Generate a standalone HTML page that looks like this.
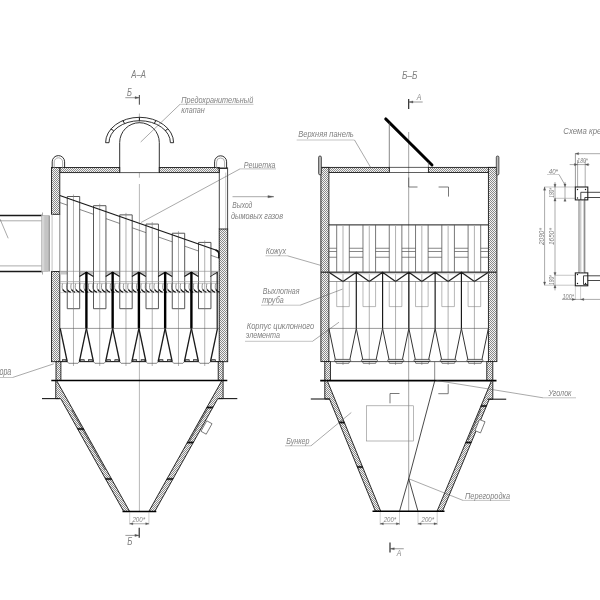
<!DOCTYPE html>
<html><head><meta charset="utf-8"><style>
html,body{margin:0;padding:0;background:#fff;width:600px;height:600px;overflow:hidden}
svg{display:block;will-change:transform}
text{font-family:"Liberation Sans",sans-serif;font-style:italic}
</style></head><body>
<svg width="600" height="600" viewBox="0 0 600 600">
<defs>
<pattern id="h" patternUnits="userSpaceOnUse" width="2" height="2">
<rect width="2" height="2" fill="#f4f4f4"/>
<rect width="1" height="1" fill="#8a8a8a"/><rect x="1" y="1" width="1" height="1" fill="#8a8a8a"/>
</pattern>
</defs>
<rect width="600" height="600" fill="#fff"/>
<text x="131.30" y="77.70" font-size="10.8" fill="#808080" textLength="14.6" lengthAdjust="spacingAndGlyphs" >А–А</text>
<text x="127.10" y="95.80" font-size="10" fill="#808080" textLength="4.9" lengthAdjust="spacingAndGlyphs" >Б</text>
<line x1="125.30" y1="97.70" x2="139.30" y2="97.70" stroke="#555" stroke-width="0.6" />
<polygon points="139.00,97.70 135.00,96.60 135.00,98.80" stroke="#555" stroke-width="0.3" fill="#555" />
<line x1="139.35" y1="95.00" x2="139.35" y2="104.70" stroke="#444" stroke-width="1.0" />
<line x1="139.40" y1="113.50" x2="139.40" y2="177.70" stroke="#999" stroke-width="0.7" />
<line x1="139.40" y1="184.00" x2="139.40" y2="512.00" stroke="#999" stroke-width="0.7" />
<path d="M105.6,142.7 A34,25.4 0 0 1 173.6,142.7 L170.4,142.7 A30.7,22 0 0 0 109,142.7 Z" fill="none" stroke="#1a1a1a" stroke-width="0.9"/>
<line x1="139.40" y1="117.30" x2="139.40" y2="120.70" stroke="#1a1a1a" stroke-width="1.0" />
<line x1="155.88" y1="120.48" x2="154.28" y2="123.46" stroke="#1a1a1a" stroke-width="1.0" />
<line x1="122.92" y1="120.48" x2="124.52" y2="123.46" stroke="#1a1a1a" stroke-width="1.0" />
<line x1="167.91" y1="128.87" x2="165.15" y2="130.72" stroke="#1a1a1a" stroke-width="1.0" />
<line x1="110.89" y1="128.87" x2="113.65" y2="130.72" stroke="#1a1a1a" stroke-width="1.0" />
<path d="M119.7,172.4 V142.5 A19.8,19.8 0 0 1 159.3,142.5 V172.4" fill="#fff" stroke="#1a1a1a" stroke-width="0.9"/>
<line x1="119.70" y1="172.60" x2="159.30" y2="172.60" stroke="#555" stroke-width="1.0" />
<rect x="59.80" y="167.50" width="59.90" height="5.10" stroke="#1a1a1a" stroke-width="0.9" fill="url(#h)" />
<rect x="159.30" y="167.50" width="59.90" height="5.10" stroke="#1a1a1a" stroke-width="0.9" fill="url(#h)" />
<rect x="51.50" y="167.50" width="8.30" height="46.80" stroke="#1a1a1a" stroke-width="0.9" fill="url(#h)" />
<rect x="51.50" y="271.50" width="8.30" height="90.20" stroke="#1a1a1a" stroke-width="0.9" fill="url(#h)" />
<path d="M52.2,168 V161.8 A6.2,6.2 0 0 1 64.6,161.8 V168" fill="none" stroke="#1a1a1a" stroke-width="0.9"/>
<path d="M54.2,168 V162 A4.2,4.2 0 0 1 62.6,162 V168" fill="none" stroke="#888" stroke-width="0.7"/>
<line x1="219.30" y1="167.50" x2="219.30" y2="229.00" stroke="#1a1a1a" stroke-width="0.8" />
<line x1="227.60" y1="167.50" x2="227.60" y2="229.00" stroke="#1a1a1a" stroke-width="0.8" />
<line x1="225.70" y1="172.60" x2="225.70" y2="229.00" stroke="#aaa" stroke-width="0.6" />
<rect x="217.50" y="167.50" width="10.10" height="1.50" stroke="none" stroke-width="0" fill="#333" />
<rect x="219.20" y="229.00" width="8.50" height="132.70" stroke="#1a1a1a" stroke-width="0.9" fill="url(#h)" />
<path d="M214.6,168 V161.8 A6.0,6.0 0 0 1 226.6,161.8 V168" fill="none" stroke="#1a1a1a" stroke-width="0.9"/>
<path d="M216.6,168 V162 A4.0,4.0 0 0 1 224.6,162 V168" fill="none" stroke="#888" stroke-width="0.7"/>
<line x1="0.00" y1="215.50" x2="42.00" y2="215.50" stroke="#1a1a1a" stroke-width="1.4" />
<line x1="0.00" y1="271.50" x2="42.00" y2="271.50" stroke="#1a1a1a" stroke-width="1.4" />
<line x1="0.00" y1="220.80" x2="42.00" y2="220.80" stroke="#888" stroke-width="0.7" />
<line x1="0.00" y1="265.90" x2="42.00" y2="265.90" stroke="#888" stroke-width="0.7" />
<line x1="0.00" y1="219.00" x2="8.20" y2="238.30" stroke="#555" stroke-width="0.5" />
<rect x="41.50" y="215.50" width="6.80" height="56.00" stroke="#999" stroke-width="0.5" fill="#d6d6d6" />
<rect x="44.30" y="215.50" width="4.00" height="56.00" stroke="none" stroke-width="0" fill="#c4c4c4" />
<line x1="49.30" y1="215.50" x2="49.30" y2="271.50" stroke="#555" stroke-width="0.7" />
<line x1="52.10" y1="214.30" x2="52.10" y2="271.50" stroke="#bbb" stroke-width="0.9" />
<line x1="59.80" y1="214.30" x2="59.80" y2="271.50" stroke="#555" stroke-width="0.7" />
<line x1="42.50" y1="212.50" x2="42.50" y2="215.50" stroke="#555" stroke-width="0.5" />
<line x1="42.50" y1="271.50" x2="42.50" y2="274.50" stroke="#555" stroke-width="0.5" />
<line x1="59.80" y1="202.50" x2="67.25" y2="205.11" stroke="#555" stroke-width="0.7" />
<line x1="79.70" y1="209.46" x2="93.50" y2="214.29" stroke="#555" stroke-width="0.7" />
<line x1="105.95" y1="218.64" x2="119.75" y2="223.47" stroke="#555" stroke-width="0.7" />
<line x1="132.20" y1="227.82" x2="146.00" y2="232.65" stroke="#555" stroke-width="0.7" />
<line x1="158.45" y1="237.00" x2="172.25" y2="241.83" stroke="#555" stroke-width="0.7" />
<line x1="184.70" y1="246.18" x2="198.50" y2="251.01" stroke="#555" stroke-width="0.7" />
<line x1="210.95" y1="255.36" x2="219.20" y2="258.24" stroke="#555" stroke-width="0.7" />
<rect x="59.80" y="271.00" width="7.45" height="3.50" stroke="none" stroke-width="0" fill="#c8c8c8" />
<rect x="79.70" y="271.00" width="13.80" height="3.50" stroke="none" stroke-width="0" fill="#c8c8c8" />
<rect x="105.95" y="271.00" width="13.80" height="3.50" stroke="none" stroke-width="0" fill="#c8c8c8" />
<rect x="132.20" y="271.00" width="13.80" height="3.50" stroke="none" stroke-width="0" fill="#c8c8c8" />
<rect x="158.45" y="271.00" width="13.80" height="3.50" stroke="none" stroke-width="0" fill="#c8c8c8" />
<rect x="184.70" y="271.00" width="13.80" height="3.50" stroke="none" stroke-width="0" fill="#c8c8c8" />
<rect x="210.95" y="271.00" width="8.25" height="3.50" stroke="none" stroke-width="0" fill="#c8c8c8" />
<path d="M62.50,283.6 C61.80,286.5 62.00,289.0 63.00,290.0" fill="none" stroke="#777" stroke-width="0.8"/>
<path d="M62.80,289.6 C63.70,291.0 65.00,291.8 66.40,292.3" fill="none" stroke="#111" stroke-width="1.3"/>
<path d="M66.88,283.6 C66.17,286.5 66.38,289.0 67.38,290.0" fill="none" stroke="#777" stroke-width="0.8"/>
<path d="M67.17,289.6 C68.08,291.0 69.38,291.8 70.78,292.3" fill="none" stroke="#111" stroke-width="1.3"/>
<path d="M71.25,283.6 C70.55,286.5 70.75,289.0 71.75,290.0" fill="none" stroke="#777" stroke-width="0.8"/>
<path d="M71.55,289.6 C72.45,291.0 73.75,291.8 75.15,292.3" fill="none" stroke="#111" stroke-width="1.3"/>
<path d="M75.62,283.6 C74.92,286.5 75.12,289.0 76.12,290.0" fill="none" stroke="#777" stroke-width="0.8"/>
<path d="M75.92,289.6 C76.83,291.0 78.12,291.8 79.53,292.3" fill="none" stroke="#111" stroke-width="1.3"/>
<path d="M80.00,283.6 C79.30,286.5 79.50,289.0 80.50,290.0" fill="none" stroke="#777" stroke-width="0.8"/>
<path d="M80.30,289.6 C81.20,291.0 82.50,291.8 83.90,292.3" fill="none" stroke="#111" stroke-width="1.3"/>
<path d="M84.38,283.6 C83.67,286.5 83.88,289.0 84.88,290.0" fill="none" stroke="#777" stroke-width="0.8"/>
<path d="M84.67,289.6 C85.58,291.0 86.88,291.8 88.28,292.3" fill="none" stroke="#111" stroke-width="1.3"/>
<path d="M88.75,283.6 C88.05,286.5 88.25,289.0 89.25,290.0" fill="none" stroke="#777" stroke-width="0.8"/>
<path d="M89.05,289.6 C89.95,291.0 91.25,291.8 92.65,292.3" fill="none" stroke="#111" stroke-width="1.3"/>
<path d="M93.12,283.6 C92.42,286.5 92.62,289.0 93.62,290.0" fill="none" stroke="#777" stroke-width="0.8"/>
<path d="M93.42,289.6 C94.33,291.0 95.62,291.8 97.03,292.3" fill="none" stroke="#111" stroke-width="1.3"/>
<path d="M97.50,283.6 C96.80,286.5 97.00,289.0 98.00,290.0" fill="none" stroke="#777" stroke-width="0.8"/>
<path d="M97.80,289.6 C98.70,291.0 100.00,291.8 101.40,292.3" fill="none" stroke="#111" stroke-width="1.3"/>
<path d="M101.88,283.6 C101.17,286.5 101.38,289.0 102.38,290.0" fill="none" stroke="#777" stroke-width="0.8"/>
<path d="M102.17,289.6 C103.08,291.0 104.38,291.8 105.78,292.3" fill="none" stroke="#111" stroke-width="1.3"/>
<path d="M106.25,283.6 C105.55,286.5 105.75,289.0 106.75,290.0" fill="none" stroke="#777" stroke-width="0.8"/>
<path d="M106.55,289.6 C107.45,291.0 108.75,291.8 110.15,292.3" fill="none" stroke="#111" stroke-width="1.3"/>
<path d="M110.62,283.6 C109.92,286.5 110.12,289.0 111.12,290.0" fill="none" stroke="#777" stroke-width="0.8"/>
<path d="M110.92,289.6 C111.83,291.0 113.12,291.8 114.53,292.3" fill="none" stroke="#111" stroke-width="1.3"/>
<path d="M115.00,283.6 C114.30,286.5 114.50,289.0 115.50,290.0" fill="none" stroke="#777" stroke-width="0.8"/>
<path d="M115.30,289.6 C116.20,291.0 117.50,291.8 118.90,292.3" fill="none" stroke="#111" stroke-width="1.3"/>
<path d="M119.38,283.6 C118.67,286.5 118.88,289.0 119.88,290.0" fill="none" stroke="#777" stroke-width="0.8"/>
<path d="M119.67,289.6 C120.58,291.0 121.88,291.8 123.28,292.3" fill="none" stroke="#111" stroke-width="1.3"/>
<path d="M123.75,283.6 C123.05,286.5 123.25,289.0 124.25,290.0" fill="none" stroke="#777" stroke-width="0.8"/>
<path d="M124.05,289.6 C124.95,291.0 126.25,291.8 127.65,292.3" fill="none" stroke="#111" stroke-width="1.3"/>
<path d="M128.12,283.6 C127.42,286.5 127.62,289.0 128.62,290.0" fill="none" stroke="#777" stroke-width="0.8"/>
<path d="M128.43,289.6 C129.32,291.0 130.62,291.8 132.03,292.3" fill="none" stroke="#111" stroke-width="1.3"/>
<path d="M132.50,283.6 C131.80,286.5 132.00,289.0 133.00,290.0" fill="none" stroke="#777" stroke-width="0.8"/>
<path d="M132.80,289.6 C133.70,291.0 135.00,291.8 136.40,292.3" fill="none" stroke="#111" stroke-width="1.3"/>
<path d="M136.88,283.6 C136.18,286.5 136.38,289.0 137.38,290.0" fill="none" stroke="#777" stroke-width="0.8"/>
<path d="M137.18,289.6 C138.07,291.0 139.38,291.8 140.78,292.3" fill="none" stroke="#111" stroke-width="1.3"/>
<path d="M141.25,283.6 C140.55,286.5 140.75,289.0 141.75,290.0" fill="none" stroke="#777" stroke-width="0.8"/>
<path d="M141.55,289.6 C142.45,291.0 143.75,291.8 145.15,292.3" fill="none" stroke="#111" stroke-width="1.3"/>
<path d="M145.62,283.6 C144.93,286.5 145.12,289.0 146.12,290.0" fill="none" stroke="#777" stroke-width="0.8"/>
<path d="M145.93,289.6 C146.82,291.0 148.12,291.8 149.53,292.3" fill="none" stroke="#111" stroke-width="1.3"/>
<path d="M150.00,283.6 C149.30,286.5 149.50,289.0 150.50,290.0" fill="none" stroke="#777" stroke-width="0.8"/>
<path d="M150.30,289.6 C151.20,291.0 152.50,291.8 153.90,292.3" fill="none" stroke="#111" stroke-width="1.3"/>
<path d="M154.38,283.6 C153.68,286.5 153.88,289.0 154.88,290.0" fill="none" stroke="#777" stroke-width="0.8"/>
<path d="M154.68,289.6 C155.57,291.0 156.88,291.8 158.28,292.3" fill="none" stroke="#111" stroke-width="1.3"/>
<path d="M158.75,283.6 C158.05,286.5 158.25,289.0 159.25,290.0" fill="none" stroke="#777" stroke-width="0.8"/>
<path d="M159.05,289.6 C159.95,291.0 161.25,291.8 162.65,292.3" fill="none" stroke="#111" stroke-width="1.3"/>
<path d="M163.12,283.6 C162.43,286.5 162.62,289.0 163.62,290.0" fill="none" stroke="#777" stroke-width="0.8"/>
<path d="M163.43,289.6 C164.32,291.0 165.62,291.8 167.03,292.3" fill="none" stroke="#111" stroke-width="1.3"/>
<path d="M167.50,283.6 C166.80,286.5 167.00,289.0 168.00,290.0" fill="none" stroke="#777" stroke-width="0.8"/>
<path d="M167.80,289.6 C168.70,291.0 170.00,291.8 171.40,292.3" fill="none" stroke="#111" stroke-width="1.3"/>
<path d="M171.88,283.6 C171.18,286.5 171.38,289.0 172.38,290.0" fill="none" stroke="#777" stroke-width="0.8"/>
<path d="M172.18,289.6 C173.07,291.0 174.38,291.8 175.78,292.3" fill="none" stroke="#111" stroke-width="1.3"/>
<path d="M176.25,283.6 C175.55,286.5 175.75,289.0 176.75,290.0" fill="none" stroke="#777" stroke-width="0.8"/>
<path d="M176.55,289.6 C177.45,291.0 178.75,291.8 180.15,292.3" fill="none" stroke="#111" stroke-width="1.3"/>
<path d="M180.62,283.6 C179.93,286.5 180.12,289.0 181.12,290.0" fill="none" stroke="#777" stroke-width="0.8"/>
<path d="M180.93,289.6 C181.82,291.0 183.12,291.8 184.53,292.3" fill="none" stroke="#111" stroke-width="1.3"/>
<path d="M185.00,283.6 C184.30,286.5 184.50,289.0 185.50,290.0" fill="none" stroke="#777" stroke-width="0.8"/>
<path d="M185.30,289.6 C186.20,291.0 187.50,291.8 188.90,292.3" fill="none" stroke="#111" stroke-width="1.3"/>
<path d="M189.38,283.6 C188.68,286.5 188.88,289.0 189.88,290.0" fill="none" stroke="#777" stroke-width="0.8"/>
<path d="M189.68,289.6 C190.57,291.0 191.88,291.8 193.28,292.3" fill="none" stroke="#111" stroke-width="1.3"/>
<path d="M193.75,283.6 C193.05,286.5 193.25,289.0 194.25,290.0" fill="none" stroke="#777" stroke-width="0.8"/>
<path d="M194.05,289.6 C194.95,291.0 196.25,291.8 197.65,292.3" fill="none" stroke="#111" stroke-width="1.3"/>
<path d="M198.12,283.6 C197.43,286.5 197.62,289.0 198.62,290.0" fill="none" stroke="#777" stroke-width="0.8"/>
<path d="M198.43,289.6 C199.32,291.0 200.62,291.8 202.03,292.3" fill="none" stroke="#111" stroke-width="1.3"/>
<path d="M202.50,283.6 C201.80,286.5 202.00,289.0 203.00,290.0" fill="none" stroke="#777" stroke-width="0.8"/>
<path d="M202.80,289.6 C203.70,291.0 205.00,291.8 206.40,292.3" fill="none" stroke="#111" stroke-width="1.3"/>
<path d="M206.88,283.6 C206.18,286.5 206.38,289.0 207.38,290.0" fill="none" stroke="#777" stroke-width="0.8"/>
<path d="M207.18,289.6 C208.07,291.0 209.38,291.8 210.78,292.3" fill="none" stroke="#111" stroke-width="1.3"/>
<path d="M211.25,283.6 C210.55,286.5 210.75,289.0 211.75,290.0" fill="none" stroke="#777" stroke-width="0.8"/>
<path d="M211.55,289.6 C212.45,291.0 213.75,291.8 215.15,292.3" fill="none" stroke="#111" stroke-width="1.3"/>
<path d="M215.62,283.6 C214.93,286.5 215.12,289.0 216.12,290.0" fill="none" stroke="#777" stroke-width="0.8"/>
<path d="M215.93,289.6 C216.82,291.0 218.12,291.8 219.53,292.3" fill="none" stroke="#111" stroke-width="1.3"/>
<line x1="59.80" y1="283.30" x2="219.20" y2="283.30" stroke="#888" stroke-width="0.5" />
<line x1="59.80" y1="292.60" x2="219.20" y2="292.60" stroke="#888" stroke-width="0.4" />
<polyline points="67.25,308.70 67.25,196.51 79.70,196.51 79.70,308.70 67.25,308.70" stroke="#444" stroke-width="0.9" fill="none" />
<line x1="73.47" y1="194.51" x2="73.47" y2="366.00" stroke="#7a7a7a" stroke-width="0.6" />
<polyline points="93.50,308.70 93.50,205.69 105.95,205.69 105.95,308.70 93.50,308.70" stroke="#444" stroke-width="0.9" fill="none" />
<line x1="99.72" y1="203.69" x2="99.72" y2="366.00" stroke="#7a7a7a" stroke-width="0.6" />
<polyline points="119.75,308.70 119.75,214.87 132.20,214.87 132.20,308.70 119.75,308.70" stroke="#444" stroke-width="0.9" fill="none" />
<line x1="125.97" y1="212.87" x2="125.97" y2="366.00" stroke="#7a7a7a" stroke-width="0.6" />
<polyline points="146.00,308.70 146.00,224.05 158.45,224.05 158.45,308.70 146.00,308.70" stroke="#444" stroke-width="0.9" fill="none" />
<line x1="152.22" y1="222.05" x2="152.22" y2="366.00" stroke="#7a7a7a" stroke-width="0.6" />
<polyline points="172.25,308.70 172.25,233.23 184.70,233.23 184.70,308.70 172.25,308.70" stroke="#444" stroke-width="0.9" fill="none" />
<line x1="178.47" y1="231.23" x2="178.47" y2="366.00" stroke="#7a7a7a" stroke-width="0.6" />
<polyline points="198.50,308.70 198.50,242.41 210.95,242.41 210.95,308.70 198.50,308.70" stroke="#444" stroke-width="0.9" fill="none" />
<line x1="204.72" y1="240.41" x2="204.72" y2="366.00" stroke="#7a7a7a" stroke-width="0.6" />
<line x1="59.80" y1="195.50" x2="218.50" y2="251.00" stroke="#1a1a1a" stroke-width="1.3" />
<path d="M215.5,250.0 Q218.8,251.2 218.8,253.5 V258.3" fill="none" stroke="#111" stroke-width="1.4"/>
<line x1="59.80" y1="271.30" x2="219.20" y2="271.30" stroke="#888" stroke-width="0.6" />
<line x1="59.80" y1="281.50" x2="219.20" y2="281.50" stroke="#999" stroke-width="0.6" />
<polyline points="79.40,276.60 86.40,272.30 93.40,276.60" stroke="#1a1a1a" stroke-width="1.2" fill="none" />
<line x1="86.40" y1="272.00" x2="86.40" y2="328.40" stroke="#000" stroke-width="2.4" />
<polyline points="105.65,276.60 112.65,272.30 119.65,276.60" stroke="#1a1a1a" stroke-width="1.2" fill="none" />
<line x1="112.65" y1="272.00" x2="112.65" y2="328.40" stroke="#000" stroke-width="2.4" />
<polyline points="131.90,276.60 138.90,272.30 145.90,276.60" stroke="#1a1a1a" stroke-width="1.2" fill="none" />
<line x1="138.90" y1="272.00" x2="138.90" y2="328.40" stroke="#000" stroke-width="2.4" />
<polyline points="158.15,276.60 165.15,272.30 172.15,276.60" stroke="#1a1a1a" stroke-width="1.2" fill="none" />
<line x1="165.15" y1="272.00" x2="165.15" y2="328.40" stroke="#000" stroke-width="2.4" />
<polyline points="184.40,276.60 191.40,272.30 198.40,276.60" stroke="#1a1a1a" stroke-width="1.2" fill="none" />
<line x1="191.40" y1="272.00" x2="191.40" y2="328.40" stroke="#000" stroke-width="2.4" />
<line x1="217.20" y1="272.00" x2="217.20" y2="328.40" stroke="#1a1a1a" stroke-width="1.2" />
<polyline points="210.20,276.60 217.20,272.30" stroke="#1a1a1a" stroke-width="0.9" fill="none" />
<line x1="59.80" y1="328.40" x2="219.20" y2="328.40" stroke="#555" stroke-width="0.6" />
<line x1="60.20" y1="328.40" x2="67.20" y2="361.50" stroke="#1a1a1a" stroke-width="1.3" />
<line x1="86.40" y1="328.40" x2="79.40" y2="361.50" stroke="#1a1a1a" stroke-width="1.3" />
<polyline points="67.20,361.50 68.70,363.30 77.90,363.30 79.40,361.50" stroke="#555" stroke-width="0.7" fill="none" />
<line x1="86.40" y1="328.40" x2="93.40" y2="361.50" stroke="#1a1a1a" stroke-width="1.3" />
<line x1="112.65" y1="328.40" x2="105.65" y2="361.50" stroke="#1a1a1a" stroke-width="1.3" />
<polyline points="93.40,361.50 94.90,363.30 104.15,363.30 105.65,361.50" stroke="#555" stroke-width="0.7" fill="none" />
<line x1="112.65" y1="328.40" x2="119.65" y2="361.50" stroke="#1a1a1a" stroke-width="1.3" />
<line x1="138.90" y1="328.40" x2="131.90" y2="361.50" stroke="#1a1a1a" stroke-width="1.3" />
<polyline points="119.65,361.50 121.15,363.30 130.40,363.30 131.90,361.50" stroke="#555" stroke-width="0.7" fill="none" />
<line x1="138.90" y1="328.40" x2="145.90" y2="361.50" stroke="#1a1a1a" stroke-width="1.3" />
<line x1="165.15" y1="328.40" x2="158.15" y2="361.50" stroke="#1a1a1a" stroke-width="1.3" />
<polyline points="145.90,361.50 147.40,363.30 156.65,363.30 158.15,361.50" stroke="#555" stroke-width="0.7" fill="none" />
<line x1="165.15" y1="328.40" x2="172.15" y2="361.50" stroke="#1a1a1a" stroke-width="1.3" />
<line x1="191.40" y1="328.40" x2="184.40" y2="361.50" stroke="#1a1a1a" stroke-width="1.3" />
<polyline points="172.15,361.50 173.65,363.30 182.90,363.30 184.40,361.50" stroke="#555" stroke-width="0.7" fill="none" />
<line x1="191.40" y1="328.40" x2="198.40" y2="361.50" stroke="#1a1a1a" stroke-width="1.3" />
<line x1="217.50" y1="328.40" x2="210.50" y2="361.50" stroke="#1a1a1a" stroke-width="1.3" />
<polyline points="198.40,361.50 199.90,363.30 209.00,363.30 210.50,361.50" stroke="#555" stroke-width="0.7" fill="none" />
<line x1="59.80" y1="361.60" x2="67.50" y2="361.60" stroke="#1a1a1a" stroke-width="1.1" />
<rect x="62.40" y="359.70" width="3.60" height="1.80" stroke="#1a1a1a" stroke-width="0.7" fill="#aaa" />
<line x1="79.10" y1="361.60" x2="93.70" y2="361.60" stroke="#1a1a1a" stroke-width="1.1" />
<rect x="80.60" y="359.70" width="3.60" height="1.80" stroke="#1a1a1a" stroke-width="0.7" fill="#aaa" />
<rect x="88.60" y="359.70" width="3.60" height="1.80" stroke="#1a1a1a" stroke-width="0.7" fill="#aaa" />
<line x1="105.35" y1="361.60" x2="119.95" y2="361.60" stroke="#1a1a1a" stroke-width="1.1" />
<rect x="106.85" y="359.70" width="3.60" height="1.80" stroke="#1a1a1a" stroke-width="0.7" fill="#aaa" />
<rect x="114.85" y="359.70" width="3.60" height="1.80" stroke="#1a1a1a" stroke-width="0.7" fill="#aaa" />
<line x1="131.60" y1="361.60" x2="146.20" y2="361.60" stroke="#1a1a1a" stroke-width="1.1" />
<rect x="133.10" y="359.70" width="3.60" height="1.80" stroke="#1a1a1a" stroke-width="0.7" fill="#aaa" />
<rect x="141.10" y="359.70" width="3.60" height="1.80" stroke="#1a1a1a" stroke-width="0.7" fill="#aaa" />
<line x1="157.85" y1="361.60" x2="172.45" y2="361.60" stroke="#1a1a1a" stroke-width="1.1" />
<rect x="159.35" y="359.70" width="3.60" height="1.80" stroke="#1a1a1a" stroke-width="0.7" fill="#aaa" />
<rect x="167.35" y="359.70" width="3.60" height="1.80" stroke="#1a1a1a" stroke-width="0.7" fill="#aaa" />
<line x1="184.10" y1="361.60" x2="198.70" y2="361.60" stroke="#1a1a1a" stroke-width="1.1" />
<rect x="185.60" y="359.70" width="3.60" height="1.80" stroke="#1a1a1a" stroke-width="0.7" fill="#aaa" />
<rect x="193.60" y="359.70" width="3.60" height="1.80" stroke="#1a1a1a" stroke-width="0.7" fill="#aaa" />
<line x1="210.20" y1="361.60" x2="219.20" y2="361.60" stroke="#1a1a1a" stroke-width="1.1" />
<rect x="211.70" y="359.70" width="3.60" height="1.80" stroke="#1a1a1a" stroke-width="0.7" fill="#aaa" />
<rect x="56.00" y="361.70" width="4.90" height="18.80" stroke="#1a1a1a" stroke-width="0.9" fill="url(#h)" />
<rect x="218.20" y="361.70" width="4.90" height="18.80" stroke="#1a1a1a" stroke-width="0.9" fill="url(#h)" />
<line x1="51.30" y1="380.50" x2="227.30" y2="380.50" stroke="#000" stroke-width="1.6" />
<polygon points="55.75,381.00 56.90,381.00 129.70,511.50 123.70,511.50 60.72,398.60 55.75,398.60" stroke="#1a1a1a" stroke-width="0.9" fill="url(#h)" />
<polygon points="83.23,428.20 77.23,428.20 78.12,429.80 84.12,429.80" stroke="#111" stroke-width="0.3" fill="#111" />
<polygon points="111.12,478.20 105.12,478.20 106.02,479.80 112.02,479.80" stroke="#111" stroke-width="0.3" fill="#111" />
<line x1="71.68" y1="410.00" x2="105.15" y2="470.00" stroke="#1a1a1a" stroke-width="0.6" />
<polygon points="223.10,381.00 221.60,381.00 148.80,511.50 154.80,511.50 217.78,398.60 223.10,398.60" stroke="#1a1a1a" stroke-width="0.9" fill="url(#h)" />
<polygon points="207.26,406.70 213.26,406.70 212.37,408.30 206.37,408.30" stroke="#111" stroke-width="0.3" fill="#111" />
<polygon points="187.74,441.70 193.74,441.70 192.85,443.30 186.85,443.30" stroke="#111" stroke-width="0.3" fill="#111" />
<polygon points="167.38,478.20 173.38,478.20 172.48,479.80 166.48,479.80" stroke="#111" stroke-width="0.3" fill="#111" />
<line x1="207.38" y1="409.00" x2="189.53" y2="441.00" stroke="#1a1a1a" stroke-width="0.6" />
<line x1="42.00" y1="398.60" x2="59.50" y2="398.60" stroke="#1a1a1a" stroke-width="1.1" />
<line x1="218.30" y1="398.60" x2="237.30" y2="398.60" stroke="#1a1a1a" stroke-width="1.1" />
<line x1="122.50" y1="511.50" x2="156.30" y2="511.50" stroke="#000" stroke-width="1.6" />
<rect x="-3" y="-6" width="6" height="12" fill="#fff" stroke="#555" stroke-width="0.7" transform="translate(206.5,427.5) rotate(29)"/>
<line x1="129.70" y1="512.00" x2="129.70" y2="524.50" stroke="#888" stroke-width="0.4" />
<line x1="148.90" y1="512.00" x2="148.90" y2="524.50" stroke="#888" stroke-width="0.4" />
<line x1="129.70" y1="523.75" x2="148.90" y2="523.75" stroke="#555" stroke-width="0.5" />
<polygon points="129.90,523.75 132.90,522.65 132.90,524.85" stroke="#555" stroke-width="0.3" fill="#555" />
<polygon points="148.70,523.75 145.70,522.65 145.70,524.85" stroke="#555" stroke-width="0.3" fill="#555" />
<text x="132.40" y="521.50" font-size="7" fill="#808080" textLength="12.8" lengthAdjust="spacingAndGlyphs" >200*</text>
<line x1="139.20" y1="527.80" x2="139.20" y2="537.80" stroke="#1a1a1a" stroke-width="1.1" />
<line x1="125.40" y1="535.40" x2="139.20" y2="535.40" stroke="#555" stroke-width="0.6" />
<polygon points="138.90,535.40 134.90,534.30 134.90,536.50" stroke="#555" stroke-width="0.3" fill="#555" />
<text x="127.20" y="544.90" font-size="10" fill="#808080" textLength="5.2" lengthAdjust="spacingAndGlyphs" >Б</text>
<text x="181.20" y="103.20" font-size="9.7" fill="#808080" textLength="72.0" lengthAdjust="spacingAndGlyphs" >Предохранительный</text>
<line x1="180.00" y1="104.30" x2="253.50" y2="104.30" stroke="#888" stroke-width="0.5" />
<text x="181.20" y="113.30" font-size="9.7" fill="#808080" textLength="23.5" lengthAdjust="spacingAndGlyphs" >клапан</text>
<line x1="180.00" y1="104.30" x2="140.70" y2="142.00" stroke="#555" stroke-width="0.5" />
<text x="243.80" y="168.00" font-size="9.7" fill="#808080" textLength="31.7" lengthAdjust="spacingAndGlyphs" >Решетка</text>
<line x1="240.00" y1="168.90" x2="276.00" y2="168.90" stroke="#888" stroke-width="0.5" />
<line x1="240.00" y1="168.90" x2="141.00" y2="222.50" stroke="#555" stroke-width="0.5" />
<line x1="232.50" y1="196.70" x2="273.70" y2="196.70" stroke="#555" stroke-width="0.5" />
<polygon points="273.90,196.70 267.90,195.60 267.90,197.80" stroke="#555" stroke-width="0.3" fill="#555" />
<text x="232.30" y="207.90" font-size="9.7" fill="#808080" textLength="20.0" lengthAdjust="spacingAndGlyphs" >Выход</text>
<text x="231.00" y="218.60" font-size="9.7" fill="#808080" textLength="52.0" lengthAdjust="spacingAndGlyphs" >дымовых газов</text>
<text x="-0.50" y="375.30" font-size="10" fill="#808080" textLength="11.8" lengthAdjust="spacingAndGlyphs" >ора</text>
<line x1="0.00" y1="377.50" x2="12.50" y2="377.50" stroke="#888" stroke-width="0.5" />
<line x1="12.50" y1="377.50" x2="53.80" y2="363.80" stroke="#555" stroke-width="0.5" />
<text x="401.90" y="78.80" font-size="10.8" fill="#808080" textLength="15.6" lengthAdjust="spacingAndGlyphs" >Б–Б</text>
<line x1="408.70" y1="99.00" x2="408.70" y2="109.00" stroke="#1a1a1a" stroke-width="1.1" />
<line x1="408.70" y1="102.00" x2="422.70" y2="102.00" stroke="#555" stroke-width="0.6" />
<polygon points="409.00,102.00 413.00,100.90 413.00,103.10" stroke="#555" stroke-width="0.3" fill="#555" />
<text x="416.80" y="100.40" font-size="9.5" fill="#808080" textLength="4.6" lengthAdjust="spacingAndGlyphs" >А</text>
<line x1="408.70" y1="132.00" x2="408.70" y2="511.00" stroke="#8a8a8a" stroke-width="0.8" />
<line x1="385.70" y1="118.90" x2="432.00" y2="165.00" stroke="#000" stroke-width="2.9" stroke-linecap="round"/>
<line x1="389.30" y1="122.70" x2="389.30" y2="172.40" stroke="#555" stroke-width="0.7" />
<line x1="428.40" y1="162.00" x2="428.40" y2="167.30" stroke="#555" stroke-width="0.6" />
<rect x="320.90" y="167.40" width="68.40" height="5.10" stroke="#1a1a1a" stroke-width="0.9" fill="url(#h)" />
<line x1="389.30" y1="167.40" x2="428.40" y2="167.40" stroke="#1a1a1a" stroke-width="0.7" />
<line x1="389.30" y1="172.50" x2="428.40" y2="172.50" stroke="#1a1a1a" stroke-width="0.7" />
<rect x="428.40" y="167.40" width="68.50" height="5.10" stroke="#1a1a1a" stroke-width="0.9" fill="url(#h)" />
<rect x="320.90" y="167.40" width="8.00" height="194.20" stroke="#1a1a1a" stroke-width="0.9" fill="url(#h)" />
<rect x="488.40" y="167.40" width="8.50" height="194.20" stroke="#1a1a1a" stroke-width="0.9" fill="url(#h)" />
<rect x="318.60" y="156.00" width="2.80" height="18.80" stroke="#1a1a1a" stroke-width="0.7" fill="#bbb" rx="1.3"/>
<rect x="496.30" y="156.00" width="2.60" height="19.00" stroke="#1a1a1a" stroke-width="0.7" fill="#bbb" rx="1.3"/>
<polyline points="408.70,177.50 408.70,187.00 417.50,187.00" stroke="#555" stroke-width="0.8" fill="none" />
<polyline points="438.60,187.00 448.50,187.00 448.50,196.60" stroke="#555" stroke-width="0.8" fill="none" />
<line x1="328.90" y1="224.90" x2="488.40" y2="224.90" stroke="#1a1a1a" stroke-width="1.0" />
<line x1="336.70" y1="224.90" x2="336.70" y2="272.20" stroke="#555" stroke-width="0.8" />
<line x1="349.30" y1="224.90" x2="349.30" y2="272.20" stroke="#555" stroke-width="0.8" />
<polyline points="336.70,281.50 336.70,306.60 349.30,306.60 349.30,281.50" stroke="#888" stroke-width="0.6" fill="none" />
<line x1="343.00" y1="226.00" x2="343.00" y2="365.00" stroke="#7a7a7a" stroke-width="0.6" />
<line x1="362.98" y1="224.90" x2="362.98" y2="272.20" stroke="#555" stroke-width="0.8" />
<line x1="375.58" y1="224.90" x2="375.58" y2="272.20" stroke="#555" stroke-width="0.8" />
<polyline points="362.98,281.50 362.98,306.60 375.58,306.60 375.58,281.50" stroke="#888" stroke-width="0.6" fill="none" />
<line x1="369.28" y1="226.00" x2="369.28" y2="365.00" stroke="#7a7a7a" stroke-width="0.6" />
<line x1="389.26" y1="224.90" x2="389.26" y2="272.20" stroke="#555" stroke-width="0.8" />
<line x1="401.86" y1="224.90" x2="401.86" y2="272.20" stroke="#555" stroke-width="0.8" />
<polyline points="389.26,281.50 389.26,306.60 401.86,306.60 401.86,281.50" stroke="#888" stroke-width="0.6" fill="none" />
<line x1="395.56" y1="226.00" x2="395.56" y2="365.00" stroke="#7a7a7a" stroke-width="0.6" />
<line x1="415.54" y1="224.90" x2="415.54" y2="272.20" stroke="#555" stroke-width="0.8" />
<line x1="428.14" y1="224.90" x2="428.14" y2="272.20" stroke="#555" stroke-width="0.8" />
<polyline points="415.54,281.50 415.54,306.60 428.14,306.60 428.14,281.50" stroke="#888" stroke-width="0.6" fill="none" />
<line x1="421.84" y1="226.00" x2="421.84" y2="365.00" stroke="#7a7a7a" stroke-width="0.6" />
<line x1="441.82" y1="224.90" x2="441.82" y2="272.20" stroke="#555" stroke-width="0.8" />
<line x1="454.42" y1="224.90" x2="454.42" y2="272.20" stroke="#555" stroke-width="0.8" />
<polyline points="441.82,281.50 441.82,306.60 454.42,306.60 454.42,281.50" stroke="#888" stroke-width="0.6" fill="none" />
<line x1="448.12" y1="226.00" x2="448.12" y2="365.00" stroke="#7a7a7a" stroke-width="0.6" />
<line x1="468.10" y1="224.90" x2="468.10" y2="272.20" stroke="#555" stroke-width="0.8" />
<line x1="480.70" y1="224.90" x2="480.70" y2="272.20" stroke="#555" stroke-width="0.8" />
<polyline points="468.10,281.50 468.10,306.60 480.70,306.60 480.70,281.50" stroke="#888" stroke-width="0.6" fill="none" />
<line x1="474.40" y1="226.00" x2="474.40" y2="365.00" stroke="#7a7a7a" stroke-width="0.6" />
<line x1="328.90" y1="248.25" x2="336.70" y2="248.25" stroke="#555" stroke-width="0.7" />
<line x1="328.90" y1="251.50" x2="336.70" y2="251.50" stroke="#555" stroke-width="0.7" />
<line x1="328.90" y1="257.25" x2="336.70" y2="257.25" stroke="#555" stroke-width="0.7" />
<line x1="349.30" y1="248.25" x2="362.98" y2="248.25" stroke="#555" stroke-width="0.7" />
<line x1="349.30" y1="251.50" x2="362.98" y2="251.50" stroke="#555" stroke-width="0.7" />
<line x1="349.30" y1="257.25" x2="362.98" y2="257.25" stroke="#555" stroke-width="0.7" />
<line x1="375.58" y1="248.25" x2="389.26" y2="248.25" stroke="#555" stroke-width="0.7" />
<line x1="375.58" y1="251.50" x2="389.26" y2="251.50" stroke="#555" stroke-width="0.7" />
<line x1="375.58" y1="257.25" x2="389.26" y2="257.25" stroke="#555" stroke-width="0.7" />
<line x1="401.86" y1="248.25" x2="415.54" y2="248.25" stroke="#555" stroke-width="0.7" />
<line x1="401.86" y1="251.50" x2="415.54" y2="251.50" stroke="#555" stroke-width="0.7" />
<line x1="401.86" y1="257.25" x2="415.54" y2="257.25" stroke="#555" stroke-width="0.7" />
<line x1="428.14" y1="248.25" x2="441.82" y2="248.25" stroke="#555" stroke-width="0.7" />
<line x1="428.14" y1="251.50" x2="441.82" y2="251.50" stroke="#555" stroke-width="0.7" />
<line x1="428.14" y1="257.25" x2="441.82" y2="257.25" stroke="#555" stroke-width="0.7" />
<line x1="454.42" y1="248.25" x2="468.10" y2="248.25" stroke="#555" stroke-width="0.7" />
<line x1="454.42" y1="251.50" x2="468.10" y2="251.50" stroke="#555" stroke-width="0.7" />
<line x1="454.42" y1="257.25" x2="468.10" y2="257.25" stroke="#555" stroke-width="0.7" />
<line x1="480.70" y1="248.25" x2="488.40" y2="248.25" stroke="#555" stroke-width="0.7" />
<line x1="480.70" y1="251.50" x2="488.40" y2="251.50" stroke="#555" stroke-width="0.7" />
<line x1="480.70" y1="257.25" x2="488.40" y2="257.25" stroke="#555" stroke-width="0.7" />
<line x1="320.90" y1="272.20" x2="496.90" y2="272.20" stroke="#444" stroke-width="1.5" />
<rect x="328.90" y="272.90" width="159.50" height="1.40" stroke="none" stroke-width="0" fill="#d4d4d4" />
<polyline points="328.90,272.20 343.00,281.50 356.30,272.20 369.28,281.50 382.58,272.20 395.56,281.50 408.86,272.20 421.84,281.50 435.14,272.20 448.12,281.50 461.42,272.20 474.40,281.50 488.40,272.20" stroke="#222" stroke-width="1.25" fill="none" />
<line x1="328.90" y1="281.50" x2="488.40" y2="281.50" stroke="#555" stroke-width="0.6" />
<line x1="356.30" y1="272.20" x2="356.30" y2="328.40" stroke="#1a1a1a" stroke-width="1.2" />
<line x1="382.58" y1="272.20" x2="382.58" y2="328.40" stroke="#1a1a1a" stroke-width="1.2" />
<line x1="408.86" y1="272.20" x2="408.86" y2="328.40" stroke="#1a1a1a" stroke-width="1.2" />
<line x1="435.14" y1="272.20" x2="435.14" y2="328.40" stroke="#1a1a1a" stroke-width="1.2" />
<line x1="461.42" y1="272.20" x2="461.42" y2="328.40" stroke="#1a1a1a" stroke-width="1.2" />
<line x1="328.90" y1="328.40" x2="488.40" y2="328.40" stroke="#555" stroke-width="0.6" />
<line x1="328.90" y1="328.40" x2="335.40" y2="359.80" stroke="#333" stroke-width="1.0" />
<line x1="356.30" y1="328.40" x2="349.80" y2="359.80" stroke="#333" stroke-width="1.0" />
<rect x="334.60" y="359.40" width="16.00" height="2.20" stroke="#333" stroke-width="0.7" fill="#ddd" rx="1"/>
<polyline points="335.80,361.60 336.40,363.40 348.80,363.40 349.40,361.60" stroke="#555" stroke-width="0.7" fill="none" />
<line x1="356.30" y1="328.40" x2="362.80" y2="359.80" stroke="#333" stroke-width="1.0" />
<line x1="382.58" y1="328.40" x2="376.08" y2="359.80" stroke="#333" stroke-width="1.0" />
<rect x="361.44" y="359.40" width="16.00" height="2.20" stroke="#333" stroke-width="0.7" fill="#ddd" rx="1"/>
<polyline points="362.64,361.60 363.24,363.40 375.64,363.40 376.24,361.60" stroke="#555" stroke-width="0.7" fill="none" />
<line x1="382.58" y1="328.40" x2="389.08" y2="359.80" stroke="#333" stroke-width="1.0" />
<line x1="408.86" y1="328.40" x2="402.36" y2="359.80" stroke="#333" stroke-width="1.0" />
<rect x="387.72" y="359.40" width="16.00" height="2.20" stroke="#333" stroke-width="0.7" fill="#ddd" rx="1"/>
<polyline points="388.92,361.60 389.52,363.40 401.92,363.40 402.52,361.60" stroke="#555" stroke-width="0.7" fill="none" />
<line x1="408.86" y1="328.40" x2="415.36" y2="359.80" stroke="#333" stroke-width="1.0" />
<line x1="435.14" y1="328.40" x2="428.64" y2="359.80" stroke="#333" stroke-width="1.0" />
<rect x="414.00" y="359.40" width="16.00" height="2.20" stroke="#333" stroke-width="0.7" fill="#ddd" rx="1"/>
<polyline points="415.20,361.60 415.80,363.40 428.20,363.40 428.80,361.60" stroke="#555" stroke-width="0.7" fill="none" />
<line x1="435.14" y1="328.40" x2="441.64" y2="359.80" stroke="#333" stroke-width="1.0" />
<line x1="461.42" y1="328.40" x2="454.92" y2="359.80" stroke="#333" stroke-width="1.0" />
<rect x="440.28" y="359.40" width="16.00" height="2.20" stroke="#333" stroke-width="0.7" fill="#ddd" rx="1"/>
<polyline points="441.48,361.60 442.08,363.40 454.48,363.40 455.08,361.60" stroke="#555" stroke-width="0.7" fill="none" />
<line x1="461.42" y1="328.40" x2="467.92" y2="359.80" stroke="#333" stroke-width="1.0" />
<line x1="488.40" y1="328.40" x2="481.90" y2="359.80" stroke="#333" stroke-width="1.0" />
<rect x="466.91" y="359.40" width="16.00" height="2.20" stroke="#333" stroke-width="0.7" fill="#ddd" rx="1"/>
<polyline points="468.11,361.60 468.71,363.40 481.11,363.40 481.71,361.60" stroke="#555" stroke-width="0.7" fill="none" />
<line x1="328.90" y1="361.60" x2="488.40" y2="361.60" stroke="#1a1a1a" stroke-width="0.7" />
<rect x="324.80" y="361.60" width="5.60" height="19.00" stroke="#1a1a1a" stroke-width="0.9" fill="url(#h)" />
<rect x="486.80" y="361.60" width="6.00" height="19.00" stroke="#1a1a1a" stroke-width="0.9" fill="url(#h)" />
<line x1="434.70" y1="361.60" x2="434.70" y2="380.60" stroke="#555" stroke-width="0.7" />
<line x1="320.20" y1="380.60" x2="496.50" y2="380.60" stroke="#000" stroke-width="1.6" />
<polygon points="324.80,381.00 327.40,381.00 380.75,511.30 375.45,511.30 329.47,399.00 324.80,399.00" stroke="#1a1a1a" stroke-width="0.9" fill="url(#h)" />
<polygon points="344.06,421.70 338.76,421.70 339.42,423.30 344.72,423.30" stroke="#111" stroke-width="0.3" fill="#111" />
<polygon points="362.28,466.20 356.98,466.20 357.64,467.80 362.94,467.80" stroke="#111" stroke-width="0.3" fill="#111" />
<polygon points="492.80,381.00 491.40,381.00 437.00,511.30 442.50,511.30 489.30,399.20 492.80,399.20" stroke="#1a1a1a" stroke-width="0.9" fill="url(#h)" />
<polygon points="481.30,405.20 486.80,405.20 486.13,406.80 480.63,406.80" stroke="#111" stroke-width="0.3" fill="#111" />
<polygon points="466.06,441.70 471.56,441.70 470.89,443.30 465.39,443.30" stroke="#111" stroke-width="0.3" fill="#111" />
<line x1="481.11" y1="409.00" x2="468.17" y2="440.00" stroke="#1a1a1a" stroke-width="0.6" />
<line x1="310.80" y1="399.00" x2="330.00" y2="399.00" stroke="#1a1a1a" stroke-width="1.1" />
<line x1="487.50" y1="399.20" x2="506.20" y2="399.20" stroke="#1a1a1a" stroke-width="1.1" />
<line x1="372.50" y1="511.30" x2="444.50" y2="511.30" stroke="#000" stroke-width="1.6" />
<polyline points="399.50,511.30 408.75,478.75 418.00,511.30" stroke="#1a1a1a" stroke-width="0.8" fill="none" />
<line x1="434.70" y1="381.00" x2="408.75" y2="478.75" stroke="#1a1a1a" stroke-width="0.8" />
<rect x="366.30" y="405.80" width="47.30" height="35.20" stroke="#888" stroke-width="0.6" fill="none" />
<polyline points="390.00,403.30 390.00,393.50 399.50,393.50" stroke="#555" stroke-width="0.8" fill="none" />
<polyline points="438.30,393.70 448.20,393.70 448.20,384.20" stroke="#555" stroke-width="0.8" fill="none" />
<rect x="-3" y="-6" width="6" height="12" fill="#fff" stroke="#555" stroke-width="0.7" transform="translate(480,426.2) rotate(22)"/>
<line x1="380.20" y1="512.00" x2="380.20" y2="525.00" stroke="#888" stroke-width="0.4" />
<line x1="399.50" y1="512.00" x2="399.50" y2="525.00" stroke="#888" stroke-width="0.4" />
<line x1="380.20" y1="523.75" x2="399.50" y2="523.75" stroke="#555" stroke-width="0.5" />
<polygon points="380.40,523.75 383.40,522.65 383.40,524.85" stroke="#555" stroke-width="0.3" fill="#555" />
<polygon points="399.30,523.75 396.30,522.65 396.30,524.85" stroke="#555" stroke-width="0.3" fill="#555" />
<text x="383.70" y="521.50" font-size="7" fill="#808080" textLength="12.5" lengthAdjust="spacingAndGlyphs" >200*</text>
<line x1="418.00" y1="512.00" x2="418.00" y2="525.00" stroke="#888" stroke-width="0.4" />
<line x1="437.20" y1="512.00" x2="437.20" y2="525.00" stroke="#888" stroke-width="0.4" />
<line x1="418.00" y1="523.75" x2="437.20" y2="523.75" stroke="#555" stroke-width="0.5" />
<polygon points="418.20,523.75 421.20,522.65 421.20,524.85" stroke="#555" stroke-width="0.3" fill="#555" />
<polygon points="437.00,523.75 434.00,522.65 434.00,524.85" stroke="#555" stroke-width="0.3" fill="#555" />
<text x="421.50" y="521.50" font-size="7" fill="#808080" textLength="12.5" lengthAdjust="spacingAndGlyphs" >200*</text>
<line x1="390.00" y1="542.50" x2="390.00" y2="552.50" stroke="#1a1a1a" stroke-width="1.1" />
<line x1="390.00" y1="548.75" x2="403.75" y2="548.75" stroke="#555" stroke-width="0.6" />
<polygon points="390.30,548.75 394.30,547.65 394.30,549.85" stroke="#555" stroke-width="0.3" fill="#555" />
<text x="396.80" y="556.20" font-size="9.5" fill="#808080" textLength="4.6" lengthAdjust="spacingAndGlyphs" >А</text>
<text x="298.30" y="137.30" font-size="9.7" fill="#808080" textLength="55.5" lengthAdjust="spacingAndGlyphs" >Верхняя панель</text>
<line x1="296.70" y1="140.00" x2="354.50" y2="140.00" stroke="#888" stroke-width="0.5" />
<line x1="354.50" y1="140.00" x2="371.00" y2="168.00" stroke="#555" stroke-width="0.5" />
<text x="265.70" y="253.80" font-size="9.7" fill="#808080" textLength="20.3" lengthAdjust="spacingAndGlyphs" >Кожух</text>
<line x1="265.50" y1="255.80" x2="287.50" y2="255.80" stroke="#888" stroke-width="0.5" />
<line x1="287.50" y1="255.80" x2="321.20" y2="265.50" stroke="#555" stroke-width="0.5" />
<text x="262.70" y="294.30" font-size="9.7" fill="#808080" textLength="36.8" lengthAdjust="spacingAndGlyphs" >Выхлопная</text>
<text x="262.20" y="303.00" font-size="9.7" fill="#808080" textLength="21.5" lengthAdjust="spacingAndGlyphs" >труба</text>
<line x1="261.00" y1="305.20" x2="300.20" y2="305.20" stroke="#888" stroke-width="0.5" />
<line x1="300.20" y1="305.20" x2="342.50" y2="289.10" stroke="#555" stroke-width="0.5" />
<text x="246.70" y="329.20" font-size="9.7" fill="#808080" textLength="67.5" lengthAdjust="spacingAndGlyphs" >Корпус  циклонного</text>
<text x="245.80" y="337.50" font-size="9.7" fill="#808080" textLength="34.2" lengthAdjust="spacingAndGlyphs" >элемента</text>
<line x1="245.00" y1="341.30" x2="312.50" y2="341.30" stroke="#888" stroke-width="0.5" />
<line x1="312.50" y1="341.30" x2="339.00" y2="322.20" stroke="#555" stroke-width="0.5" />
<text x="286.20" y="443.50" font-size="9.7" fill="#808080" textLength="23.3" lengthAdjust="spacingAndGlyphs" >Бункер</text>
<line x1="285.00" y1="445.80" x2="311.00" y2="445.80" stroke="#888" stroke-width="0.5" />
<line x1="311.00" y1="445.80" x2="351.30" y2="412.50" stroke="#555" stroke-width="0.5" />
<text x="548.40" y="396.30" font-size="9.7" fill="#808080" textLength="23.1" lengthAdjust="spacingAndGlyphs" >Уголок</text>
<line x1="543.00" y1="397.80" x2="576.00" y2="397.80" stroke="#888" stroke-width="0.5" />
<line x1="543.00" y1="397.80" x2="436.50" y2="380.50" stroke="#555" stroke-width="0.5" />
<text x="465.00" y="498.80" font-size="9.7" fill="#808080" textLength="45.0" lengthAdjust="spacingAndGlyphs" >Перегородка</text>
<line x1="463.00" y1="500.40" x2="510.00" y2="500.40" stroke="#888" stroke-width="0.5" />
<line x1="463.00" y1="500.40" x2="408.75" y2="478.75" stroke="#555" stroke-width="0.5" />
<text x="563.30" y="134.20" font-size="9.5" fill="#808080" textLength="64.0" lengthAdjust="spacingAndGlyphs" >Схема крепления</text>
<line x1="575.40" y1="153.70" x2="600.00" y2="153.70" stroke="#555" stroke-width="0.5" />
<polygon points="575.60,153.70 578.60,152.60 578.60,154.80" stroke="#555" stroke-width="0.3" fill="#555" />
<line x1="575.40" y1="153.20" x2="575.40" y2="187.00" stroke="#555" stroke-width="0.6" />
<line x1="577.60" y1="160.00" x2="577.60" y2="187.00" stroke="#555" stroke-width="0.5" />
<line x1="585.20" y1="160.00" x2="585.20" y2="187.00" stroke="#555" stroke-width="0.5" />
<line x1="569.70" y1="164.60" x2="589.50" y2="164.60" stroke="#555" stroke-width="0.5" />
<polygon points="577.40,164.60 574.40,163.50 574.40,165.70" stroke="#555" stroke-width="0.3" fill="#555" />
<polygon points="585.40,164.60 588.40,163.50 588.40,165.70" stroke="#555" stroke-width="0.3" fill="#555" />
<text x="577.30" y="163.30" font-size="6.5" fill="#808080" textLength="10.5" lengthAdjust="spacingAndGlyphs" >180*</text>
<text x="548.70" y="174.00" font-size="7" fill="#808080" textLength="9.3" lengthAdjust="spacingAndGlyphs" >40*</text>
<line x1="547.00" y1="174.50" x2="559.00" y2="174.50" stroke="#888" stroke-width="0.4" />
<line x1="559.00" y1="174.50" x2="565.00" y2="185.00" stroke="#555" stroke-width="0.5" />
<line x1="565.00" y1="182.00" x2="565.00" y2="198.00" stroke="#555" stroke-width="0.5" />
<polygon points="565.00,187.00 563.90,184.00 566.10,184.00" stroke="#555" stroke-width="0.3" fill="#555" />
<polygon points="565.00,198.30 563.90,201.30 566.10,201.30" stroke="#555" stroke-width="0.3" fill="#555" />
<line x1="544.00" y1="187.00" x2="575.40" y2="187.00" stroke="#888" stroke-width="0.5" />
<line x1="555.00" y1="198.30" x2="575.40" y2="198.30" stroke="#888" stroke-width="0.5" />
<line x1="544.60" y1="187.00" x2="544.60" y2="285.20" stroke="#555" stroke-width="0.5" />
<polygon points="544.60,187.20 543.50,190.20 545.70,190.20" stroke="#555" stroke-width="0.3" fill="#555" />
<polygon points="544.60,285.00 543.50,282.00 545.70,282.00" stroke="#555" stroke-width="0.3" fill="#555" />
<line x1="555.00" y1="182.00" x2="555.00" y2="290.40" stroke="#555" stroke-width="0.5" />
<polygon points="555.00,187.20 553.90,184.20 556.10,184.20" stroke="#555" stroke-width="0.3" fill="#555" />
<polygon points="555.00,198.10 553.90,201.10 556.10,201.10" stroke="#555" stroke-width="0.3" fill="#555" />
<polygon points="555.00,275.40 553.90,272.40 556.10,272.40" stroke="#555" stroke-width="0.3" fill="#555" />
<polygon points="555.00,285.00 553.90,288.00 556.10,288.00" stroke="#555" stroke-width="0.3" fill="#555" />
<line x1="555.00" y1="275.25" x2="575.40" y2="275.25" stroke="#888" stroke-width="0.5" />
<line x1="544.00" y1="285.20" x2="575.40" y2="285.20" stroke="#888" stroke-width="0.5" />
<text transform="translate(543.5,245) rotate(-90)" font-size="7" fill="#808080" textLength="17" lengthAdjust="spacingAndGlyphs">2090*</text>
<text transform="translate(553.5,245) rotate(-90)" font-size="7" fill="#808080" textLength="17" lengthAdjust="spacingAndGlyphs">1650*</text>
<text transform="translate(553.5,197.8) rotate(-90)" font-size="7" fill="#808080" textLength="10" lengthAdjust="spacingAndGlyphs">180*</text>
<text transform="translate(553.5,285) rotate(-90)" font-size="7" fill="#808080" textLength="10" lengthAdjust="spacingAndGlyphs">180*</text>
<rect x="575.30" y="187.00" width="12.50" height="12.90" stroke="#1a1a1a" stroke-width="1.05" fill="none" />
<rect x="575.30" y="272.90" width="12.50" height="12.90" stroke="#1a1a1a" stroke-width="1.05" fill="none" />
<line x1="579.00" y1="199.90" x2="579.00" y2="272.90" stroke="#1a1a1a" stroke-width="0.6" />
<line x1="580.80" y1="199.90" x2="580.80" y2="272.90" stroke="#888" stroke-width="0.6" />
<line x1="583.90" y1="199.90" x2="583.90" y2="272.90" stroke="#888" stroke-width="0.6" />
<line x1="584.80" y1="199.90" x2="584.80" y2="272.90" stroke="#1a1a1a" stroke-width="0.6" />
<polyline points="600.00,192.30 580.80,192.30 580.80,199.90" stroke="#1a1a1a" stroke-width="0.8" fill="none" />
<polyline points="600.00,197.50 584.80,197.50 584.80,199.90" stroke="#1a1a1a" stroke-width="0.8" fill="none" />
<polyline points="600.00,275.80 583.50,275.80 583.50,284.50 587.80,284.50" stroke="#1a1a1a" stroke-width="0.8" fill="none" />
<line x1="587.80" y1="280.50" x2="600.00" y2="280.50" stroke="#1a1a1a" stroke-width="0.8" />
<circle cx="577.5" cy="189.5" r="0.7" fill="#1a1a1a"/>
<circle cx="585.5" cy="189.5" r="0.7" fill="#1a1a1a"/>
<circle cx="577.5" cy="198" r="0.7" fill="#1a1a1a"/>
<circle cx="577.5" cy="274.5" r="0.7" fill="#1a1a1a"/>
<circle cx="577.5" cy="283.5" r="0.7" fill="#1a1a1a"/>
<circle cx="585.5" cy="283.5" r="0.7" fill="#1a1a1a"/>
<line x1="575.40" y1="286.00" x2="575.40" y2="300.00" stroke="#888" stroke-width="0.4" />
<line x1="580.60" y1="286.00" x2="580.60" y2="300.00" stroke="#888" stroke-width="0.4" />
<line x1="562.00" y1="299.40" x2="600.00" y2="299.40" stroke="#555" stroke-width="0.5" />
<polygon points="575.20,299.40 572.20,298.30 572.20,300.50" stroke="#555" stroke-width="0.3" fill="#555" />
<polygon points="580.80,299.40 583.80,298.30 583.80,300.50" stroke="#555" stroke-width="0.3" fill="#555" />
<text x="562.50" y="299.00" font-size="7" fill="#808080" textLength="11.5" lengthAdjust="spacingAndGlyphs" >100*</text>
</svg>
</body></html>
